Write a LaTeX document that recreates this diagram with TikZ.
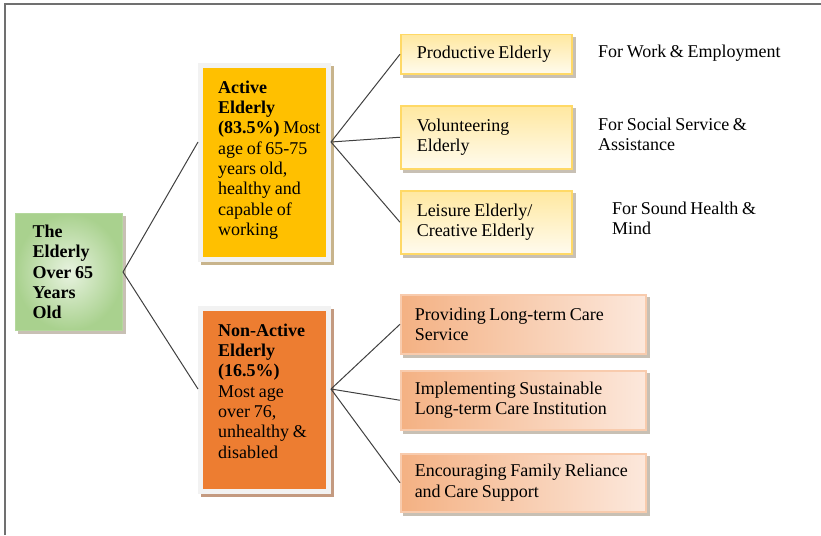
\documentclass[tikz,border=0pt]{standalone}
\usepackage{fontspec}
\setmainfont[WordSpace={0.8,0,0.8}]{Liberation Serif}
\usetikzlibrary{calc}
\hyphenpenalty=10000
\definecolor{framegray}{HTML}{707070}
\definecolor{linegray}{HTML}{404040}
\definecolor{activefill}{HTML}{FFC000}
\definecolor{nonactivefill}{HTML}{ED7D31}
\definecolor{boxframe}{HTML}{F2F2F2}
\definecolor{activeshadow}{HTML}{C8B48C}
\definecolor{nonactiveshadow}{HTML}{C49A80}
\definecolor{greenout}{HTML}{A9D18E}
\definecolor{greenin}{HTML}{E8F3E0}
\definecolor{greenline}{HTML}{B4D89C}
\definecolor{yellowtop}{HTML}{FFE8A0}
\definecolor{yellowbot}{HTML}{FFFBEE}
\definecolor{yellowline}{HTML}{FFD966}
\definecolor{orangeleft}{HTML}{F4B183}
\definecolor{orangeright}{HTML}{FCE8DC}
\definecolor{orangeline}{HTML}{F8CBAD}
\definecolor{softshadow}{HTML}{C8C0B4}
\begin{document}
\begin{tikzpicture}[x=1pt,y=-1pt,
  every node/.style={font=\fontsize{18pt}{20.3pt}\selectfont, text=black},
  tightspace/.style={execute at begin node={\spaceskip=3.6pt\relax\xspaceskip=3.6pt\relax}},
  shadowed/.style={preaction={draw=#1, fill=#1, transform canvas={xshift=3pt,yshift=-3pt}}},
  rootbox/.style={draw=greenline, line width=1pt, inner color=greenin, outer color=greenout,
    shadowed=softshadow, align=left, anchor=north west, text width=73pt, inner xsep=17pt,
    minimum height=117pt, tightspace, font=\fontsize{18pt}{20.3pt}\selectfont\bfseries},
  bigbox/.style={draw=boxframe, line width=5pt, inner sep=0pt, anchor=north west, minimum width=128pt},
  boxtext/.style={anchor=west, align=left, inner sep=0pt},
  ychild/.style={draw=yellowline, line width=1.5pt, top color=yellowtop, bottom color=yellowbot,
    shadowed=softshadow, text width=139pt, inner xsep=16pt, align=left, anchor=north west, tightspace},
  ochild/.style={draw=orangeline, line width=1.5pt, left color=orangeleft, right color=orangeright,
    shadowed=softshadow, text width=217pt, inner xsep=14pt, align=left, anchor=north west, tightspace},
  note/.style={anchor=north west, align=left, inner sep=0pt},
  conn/.style={draw=linegray, line width=1pt}
]
\useasboundingbox (0,0) rectangle (821,535);
% frame
\draw[framegray, line width=2pt] (5,535) -- (5,4) -- (821,4);

% root
\node[rootbox] (root) at (15,213) {The\\Elderly\\Over 65\\Years\\Old};

% main category boxes
\node[bigbox, fill=activefill, minimum height=194pt,
  preaction={draw=activeshadow, fill=activeshadow, line width=5pt, transform canvas={xshift=3pt,yshift=-3pt}}]
  (active) at (198,63) {};
\node[boxtext] (activetext) at (218,160) {\textbf{Active}\\\textbf{Elderly}\\\textbf{(83.5\%)} Most\\age of 65-75\\years old,\\healthy and\\capable of\\working};

\node[bigbox, fill=nonactivefill, minimum height=183pt,
  preaction={draw=nonactiveshadow, fill=nonactiveshadow, line width=5pt, transform canvas={xshift=3pt,yshift=-3pt}}]
  (nonactive) at (198,306) {};
\node[boxtext] (nonactivetext) at (218,391) {\textbf{Non-Active}\\\textbf{Elderly}\\\textbf{(16.5\%)}\\Most age\\over 76,\\unhealthy \&\\disabled};

% active children
\node[ychild, minimum height=39pt] (c1) at (400,34) {Productive Elderly};
\node[ychild, minimum height=63pt] (c2) at (400,105) {Volunteering\\Elderly};
\node[ychild, minimum height=63pt] (c3) at (400,190) {Leisure Elderly/\\Creative Elderly};

% non-active children
\node[ochild, minimum height=59pt] (d1) at (400,294) {Providing Long-term Care\\Service};
\node[ochild, minimum height=59pt] (d2) at (400,370) {Implementing Sustainable\\Long-term Care Institution};
\node[ochild, minimum height=58pt] (d3) at (400,453) {Encouraging Family Reliance\\and Care Support};

% notes
\node[note] (n1) at (598,45) {For Work \& Employment};
\node[note] (n2) at (598,118) {For Social Service \&\\Assistance};
\node[note] (n3) at (612,202) {For Sound Health \&\\Mind};

% connectors
\coordinate (activeL) at (active.west |- 0,142);
\coordinate (activeR) at (active.east |- 0,142);
\coordinate (nonL) at (nonactive.west |- 0,389);
\coordinate (nonR) at (nonactive.east |- 0,389);
\draw[conn] (root.east) -- (activeL);
\draw[conn] (root.east) -- (nonL);
\draw[conn] (activeR) -- (c1.west);
\draw[conn] (activeR) -- (c2.west);
\draw[conn] (activeR) -- (c3.west);
\draw[conn] (nonR) -- (d1.west);
\draw[conn] (nonR) -- (d2.west);
\draw[conn] (nonR) -- (d3.west);
\end{tikzpicture}
\end{document}
